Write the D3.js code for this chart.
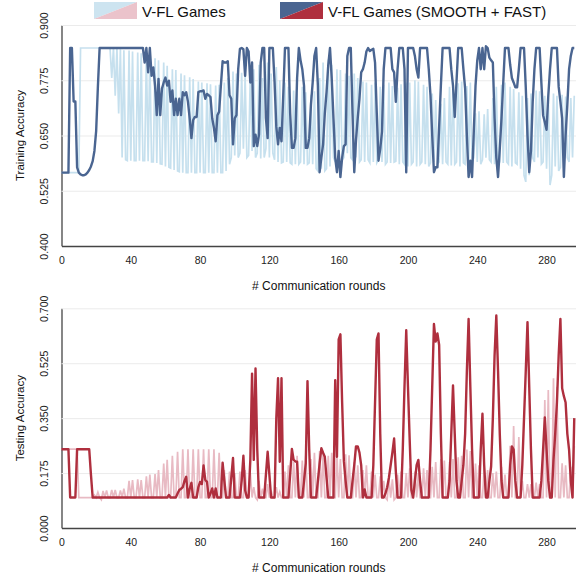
<!DOCTYPE html>
<html>
<head>
<meta charset="utf-8">
<script src="https://cdn.jsdelivr.net/npm/d3@7"></script>
<style>
  body { margin: 0; background: #fff; }
  svg { display: block; font-family: "Liberation Sans", Arial, sans-serif; }
</style>
</head>
<body>
<div id="chart"></div>
<script>
// training accuracy, V-FL Games (light) and SMOOTH + FAST (dark), one value per round
var trainVFL = [
  0.566,0.566,0.566,0.566,0.566,0.566,0.566,0.566,0.566,0.566,
  0.566,0.848,0.848,0.848,0.848,0.848,0.848,0.848,0.848,0.848,
  0.848,0.848,0.848,0.848,0.848,0.848,0.848,0.848,0.848,0.780,
  0.848,0.740,0.848,0.700,0.845,0.600,0.843,0.595,0.593,0.842,
  0.593,0.840,0.593,0.593,0.838,0.593,0.836,0.593,0.593,0.833,
  0.592,0.830,0.590,0.590,0.825,0.588,0.820,0.586,0.585,0.815,
  0.580,0.808,0.578,0.576,0.800,0.572,0.798,0.570,0.568,0.790,
  0.566,0.786,0.566,0.566,0.782,0.566,0.778,0.566,0.566,0.772,
  0.566,0.770,0.566,0.566,0.768,0.566,0.766,0.566,0.566,0.763,
  0.566,0.765,0.566,0.566,0.770,0.570,0.780,0.585,0.600,0.795,
  0.605,0.790,0.600,0.610,0.792,0.620,0.785,0.600,0.605,0.790,
  0.615,0.800,0.600,0.610,0.810,0.598,0.780,0.600,0.620,0.815,
  0.600,0.790,0.610,0.595,0.805,0.590,0.775,0.588,0.590,0.770,
  0.590,0.760,0.588,0.585,0.752,0.585,0.745,0.585,0.590,0.760,
  0.585,0.748,0.585,0.588,0.742,0.585,0.750,0.575,0.570,0.780,
  0.575,0.815,0.570,0.575,0.822,0.580,0.810,0.600,0.590,0.800,
  0.600,0.798,0.595,0.600,0.790,0.610,0.785,0.600,0.595,0.790,
  0.600,0.780,0.590,0.595,0.772,0.590,0.770,0.595,0.588,0.765,
  0.590,0.770,0.588,0.595,0.760,0.590,0.765,0.585,0.590,0.770,
  0.588,0.762,0.590,0.592,0.758,0.585,0.766,0.590,0.585,0.770,
  0.580,0.770,0.585,0.590,0.775,0.580,0.772,0.585,0.590,0.765,
  0.585,0.760,0.580,0.588,0.745,0.590,0.730,0.585,0.590,0.722,
  0.585,0.735,0.590,0.585,0.760,0.582,0.770,0.585,0.590,0.768,
  0.580,0.772,0.588,0.585,0.762,0.585,0.770,0.590,0.600,0.700,
  0.590,0.705,0.585,0.595,0.698,0.600,0.710,0.595,0.590,0.735,
  0.585,0.760,0.585,0.590,0.765,0.588,0.770,0.590,0.585,0.760,
  0.580,0.755,0.588,0.585,0.748,0.575,0.740,0.560,0.545,0.735,
  0.560,0.745,0.600,0.590,0.752,0.600,0.750,0.585,0.590,0.740,
  0.575,0.735,0.538,0.560,0.745,0.580,0.740,0.570,0.578,0.742,
  0.575,0.738,0.600,0.590,0.735,0.600,0.740
];

var trainSF = [
  0.566,0.566,0.566,0.566,0.566,0.848,0.848,0.727,0.727,0.578,
  0.566,0.562,0.560,0.560,0.562,0.566,0.572,0.580,0.592,0.615,
  0.660,0.760,0.848,0.848,0.848,0.848,0.848,0.848,0.848,0.848,
  0.848,0.848,0.848,0.848,0.848,0.848,0.848,0.848,0.848,0.848,
  0.848,0.848,0.848,0.848,0.848,0.848,0.848,0.848,0.815,0.848,
  0.793,0.848,0.785,0.804,0.763,0.696,0.778,0.696,0.756,0.770,
  0.781,0.763,0.774,0.726,0.752,0.696,0.733,0.696,0.733,0.696,
  0.748,0.741,0.748,0.726,0.689,0.644,0.685,0.692,0.692,0.748,
  0.750,0.750,0.752,0.733,0.744,0.741,0.737,0.689,0.667,0.637,
  0.696,0.704,0.763,0.818,0.815,0.815,0.818,0.741,0.733,0.630,
  0.689,0.696,0.800,0.846,0.848,0.845,0.785,0.848,0.840,0.770,
  0.815,0.626,0.652,0.626,0.652,0.815,0.848,0.848,0.689,0.644,
  0.848,0.848,0.848,0.770,0.670,0.630,0.667,0.637,0.740,0.848,
  0.848,0.848,0.700,0.622,0.622,0.644,0.780,0.848,0.820,0.800,
  0.763,0.622,0.622,0.644,0.720,0.770,0.830,0.848,0.763,0.567,
  0.600,0.630,0.700,0.748,0.810,0.848,0.778,0.689,0.600,0.567,
  0.615,0.556,0.600,0.626,0.630,0.830,0.848,0.848,0.700,0.567,
  0.640,0.689,0.733,0.793,0.800,0.815,0.840,0.848,0.841,0.844,
  0.846,0.815,0.700,0.593,0.620,0.659,0.800,0.848,0.848,0.848,
  0.848,0.800,0.793,0.726,0.800,0.848,0.848,0.848,0.800,0.567,
  0.848,0.848,0.848,0.848,0.830,0.800,0.781,0.848,0.848,0.848,
  0.848,0.848,0.800,0.741,0.650,0.567,0.578,0.578,0.670,0.763,
  0.848,0.848,0.848,0.848,0.848,0.800,0.763,0.692,0.770,0.848,
  0.848,0.848,0.800,0.756,0.650,0.556,0.593,0.556,0.660,0.763,
  0.820,0.848,0.800,0.848,0.800,0.852,0.848,0.826,0.820,0.815,
  0.689,0.600,0.556,0.620,0.689,0.770,0.848,0.848,0.848,0.810,
  0.780,0.770,0.759,0.759,0.800,0.848,0.848,0.848,0.759,0.650,
  0.567,0.615,0.726,0.800,0.848,0.848,0.848,0.770,0.696,0.680,
  0.663,0.740,0.800,0.848,0.848,0.848,0.848,0.760,0.726,0.689,
  0.556,0.650,0.720,0.800,0.830,0.848,0.848
];

// testing accuracy
var testVFL = [
  0.251,0.251,0.251,0.251,0.251,0.251,0.251,0.251,0.251,0.251,
  0.097,0.097,0.097,0.097,0.097,0.097,0.097,0.097,0.097,0.105,
  0.097,0.114,0.097,0.090,0.118,0.097,0.120,0.097,0.097,0.121,
  0.097,0.121,0.097,0.097,0.120,0.097,0.125,0.097,0.097,0.150,
  0.097,0.153,0.097,0.097,0.155,0.097,0.153,0.097,0.097,0.165,
  0.097,0.170,0.097,0.097,0.172,0.097,0.185,0.097,0.097,0.205,
  0.097,0.217,0.097,0.097,0.230,0.097,0.097,0.243,0.097,0.097,
  0.251,0.097,0.097,0.251,0.097,0.097,0.251,0.097,0.097,0.251,
  0.097,0.097,0.251,0.097,0.097,0.251,0.097,0.097,0.251,0.097,
  0.097,0.240,0.097,0.097,0.185,0.097,0.097,0.180,0.097,0.097,
  0.175,0.097,0.097,0.180,0.097,0.097,0.185,0.097,0.097,0.175,
  0.097,0.130,0.097,0.090,0.150,0.097,0.125,0.097,0.097,0.140,
  0.097,0.120,0.097,0.097,0.130,0.097,0.115,0.097,0.097,0.180,
  0.097,0.200,0.097,0.097,0.210,0.097,0.230,0.097,0.097,0.215,
  0.097,0.230,0.097,0.097,0.220,0.097,0.240,0.097,0.097,0.245,
  0.097,0.238,0.097,0.097,0.230,0.097,0.240,0.097,0.097,0.235,
  0.097,0.220,0.097,0.097,0.235,0.097,0.232,0.097,0.097,0.210,
  0.097,0.200,0.097,0.097,0.185,0.097,0.200,0.097,0.097,0.180,
  0.097,0.170,0.097,0.097,0.165,0.097,0.150,0.097,0.090,0.160,
  0.097,0.155,0.090,0.097,0.170,0.097,0.180,0.097,0.097,0.175,
  0.097,0.190,0.097,0.097,0.180,0.097,0.175,0.097,0.097,0.190,
  0.097,0.185,0.097,0.097,0.195,0.097,0.210,0.097,0.097,0.220,
  0.097,0.215,0.097,0.097,0.210,0.097,0.220,0.097,0.097,0.225,
  0.097,0.230,0.097,0.097,0.250,0.097,0.245,0.097,0.097,0.205,
  0.097,0.200,0.097,0.097,0.190,0.097,0.185,0.097,0.097,0.175,
  0.097,0.180,0.097,0.097,0.195,0.097,0.170,0.097,0.097,0.262,
  0.097,0.325,0.097,0.097,0.290,0.097,0.150,0.097,0.097,0.140,
  0.097,0.140,0.097,0.097,0.145,0.097,0.140,0.097,0.097,0.408,
  0.097,0.440,0.097,0.097,0.477,0.097,0.450,0.097,0.097,0.206,
  0.097,0.200,0.097,0.097,0.195,0.097,0.262
];

var testSF = [
  0.251,0.251,0.251,0.251,0.251,0.097,0.097,0.097,0.097,0.251,
  0.251,0.251,0.251,0.251,0.251,0.251,0.251,0.170,0.097,0.097,
  0.097,0.097,0.097,0.097,0.097,0.097,0.097,0.097,0.097,0.097,
  0.097,0.097,0.097,0.097,0.097,0.097,0.097,0.097,0.097,0.097,
  0.097,0.097,0.097,0.097,0.097,0.097,0.097,0.097,0.097,0.097,
  0.097,0.097,0.097,0.097,0.097,0.097,0.097,0.097,0.097,0.097,
  0.097,0.097,0.105,0.097,0.097,0.097,0.097,0.110,0.121,0.125,
  0.130,0.150,0.163,0.097,0.125,0.144,0.097,0.097,0.097,0.130,
  0.147,0.140,0.199,0.153,0.147,0.097,0.110,0.126,0.097,0.126,
  0.097,0.097,0.097,0.208,0.150,0.097,0.097,0.097,0.160,0.223,
  0.097,0.097,0.097,0.097,0.150,0.230,0.120,0.097,0.097,0.217,
  0.492,0.217,0.508,0.250,0.097,0.097,0.097,0.097,0.170,0.243,
  0.170,0.097,0.097,0.097,0.350,0.477,0.211,0.477,0.097,0.097,
  0.097,0.097,0.170,0.252,0.217,0.212,0.211,0.097,0.097,0.097,
  0.150,0.206,0.468,0.250,0.097,0.097,0.097,0.097,0.150,0.206,
  0.254,0.240,0.227,0.160,0.097,0.097,0.097,0.097,0.471,0.227,
  0.601,0.617,0.400,0.213,0.150,0.097,0.097,0.097,0.150,0.200,
  0.260,0.260,0.240,0.200,0.097,0.123,0.097,0.097,0.097,0.097,
  0.200,0.400,0.600,0.620,0.300,0.097,0.097,0.110,0.130,0.160,
  0.200,0.240,0.285,0.180,0.097,0.097,0.097,0.250,0.450,0.630,
  0.450,0.280,0.120,0.097,0.150,0.200,0.217,0.150,0.097,0.097,
  0.097,0.097,0.097,0.250,0.450,0.650,0.594,0.620,0.583,0.300,
  0.097,0.097,0.097,0.097,0.150,0.300,0.454,0.300,0.150,0.097,
  0.097,0.150,0.200,0.300,0.500,0.666,0.450,0.250,0.097,0.097,
  0.097,0.097,0.250,0.364,0.200,0.097,0.097,0.150,0.196,0.350,
  0.550,0.677,0.500,0.300,0.150,0.097,0.097,0.097,0.097,0.200,
  0.260,0.250,0.150,0.097,0.097,0.097,0.200,0.350,0.500,0.656,
  0.450,0.250,0.097,0.097,0.097,0.097,0.097,0.150,0.250,0.352,
  0.250,0.150,0.097,0.097,0.217,0.300,0.400,0.550,0.666,0.445,
  0.420,0.400,0.300,0.250,0.150,0.097,0.350
];

var xTicks = [0, 40, 80, 120, 160, 200, 240, 280];
var trainTicks = [0.4, 0.525, 0.65, 0.775, 0.9];
var testTicks = [0, 0.175, 0.35, 0.525, 0.7];
var legendNames = ["V-FL Games", "V-FL Games (SMOOTH + FAST)"];

var W = 576, H = 583;
var left = 61.5, right = 576;

var svg = d3.select("#chart").append("svg")
    .attr("width", W)
    .attr("height", H);

var x = d3.scaleLinear().domain([0, 297]).range([left, right]);

function panel(top, bottom, yDomain, ticks, ytitle, light, dark, lightColor, darkColor) {
    var y = d3.scaleLinear().domain(yDomain).range([bottom, top]);
    var g = svg.append("g");

    var yAxis = g.append("g")
        .attr("transform", "translate(" + left + ",0)")
        .call(d3.axisLeft(y).tickValues(ticks).tickSize(-(right - left)).tickSizeOuter(0).tickFormat(d3.format(".3f")));
    yAxis.selectAll(".tick line").attr("stroke", "#ebebeb").attr("stroke-width", 1);
    yAxis.select(".domain").attr("stroke", "#444").attr("stroke-width", 1.3);
    yAxis.selectAll(".tick text")
        .attr("x", 0).attr("dy", null)
        .attr("transform", "translate(-18,0) rotate(-90)")
        .attr("text-anchor", "middle")
        .attr("dominant-baseline", "central")
        .attr("font-size", 10.5)
        .attr("fill", "#222");

    var line = d3.line()
        .x(function(d, i) { return x(i); })
        .y(function(d) { return y(d); });

    g.append("path").datum(light)
        .attr("d", line)
        .attr("fill", "none")
        .attr("stroke", lightColor)
        .attr("stroke-width", 1.7);
    g.append("path").datum(dark)
        .attr("d", line)
        .attr("fill", "none")
        .attr("stroke", darkColor)
        .attr("stroke-width", 2.4)
        .attr("stroke-linejoin", "round");

    var xAxis = g.append("g")
        .attr("transform", "translate(0," + bottom + ")")
        .call(d3.axisBottom(x).tickValues(xTicks).tickSize(0).tickSizeOuter(0).tickPadding(11));
    xAxis.select(".domain").attr("stroke", "#444").attr("stroke-width", 1.3);
    xAxis.selectAll(".tick text").attr("font-size", 10.5).attr("fill", "#222");

    g.append("text")
        .attr("x", (left + right) / 2)
        .attr("y", bottom + 44)
        .attr("text-anchor", "middle")
        .attr("font-size", 12)
        .attr("fill", "#111")
        .text("# Communication rounds");

    g.append("text")
        .attr("transform", "translate(20," + ((top + bottom) / 2) + ") rotate(-90)")
        .attr("text-anchor", "middle")
        .attr("dominant-baseline", "central")
        .attr("font-size", 11.5)
        .attr("fill", "#111")
        .text(ytitle);
}

panel(25, 246, [0.4, 0.9], trainTicks, "Training Accuracy", trainVFL, trainSF, "#c6e0ee", "#4a6591");
panel(308.3, 528, [0, 0.7], testTicks, "Testing Accuracy", testVFL, testSF, "#e8bac3", "#af2f3e");

// legend: patches split diagonally, blue over red
var legend = [
    {x: 94, top: "#cde4f0", bottom: "#ebc3cb", name: legendNames[0]},
    {x: 280, top: "#4a6591", bottom: "#af2f3e", name: legendNames[1]}
];
legend.forEach(function(l) {
    var w = 43, h = 17, y0 = 2;
    svg.append("polygon")
        .attr("points", [[l.x, y0], [l.x + w, y0], [l.x, y0 + h]].join(" "))
        .attr("fill", l.top);
    svg.append("polygon")
        .attr("points", [[l.x + w, y0], [l.x + w, y0 + h], [l.x, y0 + h]].join(" "))
        .attr("fill", l.bottom);
    svg.append("text")
        .attr("x", l.x + w + 5)
        .attr("y", y0 + h / 2 + 1)
        .attr("dominant-baseline", "central")
        .attr("font-size", 15)
        .attr("fill", "#111")
        .text(l.name);
});
</script>
</body>
</html>
